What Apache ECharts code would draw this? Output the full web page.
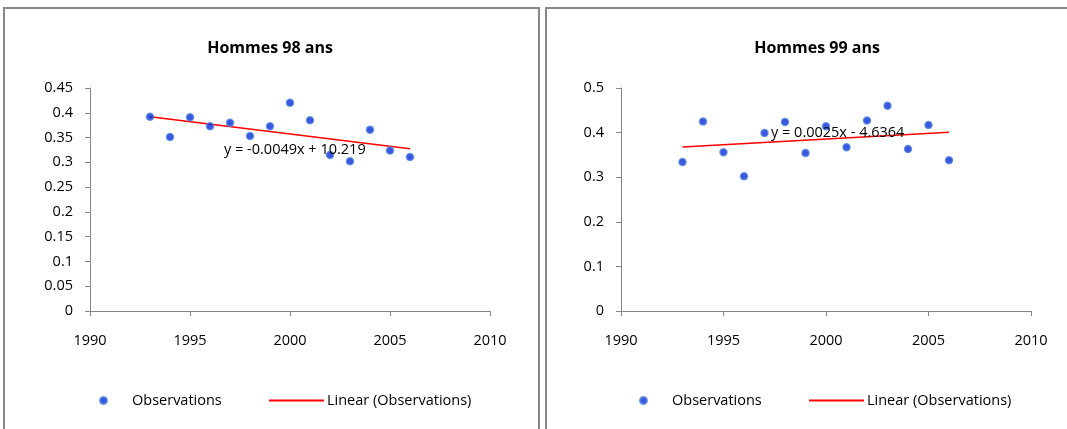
<!DOCTYPE html>
<html>
<head>
<meta charset="utf-8">
<script src="https://cdn.jsdelivr.net/npm/echarts@6/dist/echarts.min.js"></script>
<style>
html,body{margin:0;padding:0;background:#fff;}
#c{width:1067px;height:429px;}
</style>
</head>
<body>
<div id="c"></div>
<script>
// ---- data ----
const years = [1993,1994,1995,1996,1997,1998,1999,2000,2001,2002,2003,2004,2005,2006];
const hommes98 = [0.392,0.351,0.391,0.373,0.380,0.353,0.373,0.420,0.385,0.315,0.302,0.366,0.324,0.311];
const hommes99 = [0.334,0.425,0.356,0.302,0.399,0.424,0.354,0.414,0.367,0.427,0.460,0.363,0.417,0.338];
const titles = ['Hommes 98 ans','Hommes 99 ans'];
const equations = ['y = -0.0049x + 10.219','y = 0.0025x - 4.6364'];
const xTicks = {min:1990,max:2010,interval:5};
const yTicks98 = {min:0,max:0.45,interval:0.05};
const yTicks99 = {min:0,max:0.5,interval:0.1};

function fit(xs, ys){
  const n = xs.length;
  let sx=0,sy=0,sxx=0,sxy=0;
  for(let i=0;i<n;i++){sx+=xs[i];sy+=ys[i];sxx+=xs[i]*xs[i];sxy+=xs[i]*ys[i];}
  const b=(n*sxy-sx*sy)/(n*sxx-sx*sx);
  const a=(sy-b*sx)/n;
  const x0=xs[0], x1=xs[n-1];
  return [[x0,a+b*x0],[x1,a+b*x1]];
}

const FONT = "'Open Sans', sans-serif";
const FS = 14.5;
const chart = echarts.init(document.getElementById('c'), null, {renderer:'canvas'});
const axisCol = '#868686';
const txt = {color:'#000', fontFamily:FONT, fontSize:FS};

function xAxis(grid){
  return {type:'value', gridIndex:grid, min:xTicks.min, max:xTicks.max, interval:xTicks.interval,
    axisLine:{show:true,lineStyle:{color:axisCol,width:1}},
    axisTick:{show:true,length:5,lineStyle:{color:axisCol}},
    axisLabel:Object.assign({margin:22, formatter:(v)=>String(v)},txt),
    splitLine:{show:false}};
}
function yAxis(grid,t){
  return {type:'value', gridIndex:grid, min:t.min, max:t.max, interval:t.interval,
    axisLine:{show:true,lineStyle:{color:axisCol,width:1}},
    axisTick:{show:true,length:5,lineStyle:{color:axisCol}},
    axisLabel:Object.assign({margin:17, formatter:(v)=>String(+v.toFixed(2))},txt),
    splitLine:{show:false}};
}
const scatterStyle = {color:'#0a2ad8', borderColor:'#4d84de', borderWidth:1.5};
function scatter(grid, vals){
  return {name:'Observations', type:'scatter', xAxisIndex:grid, yAxisIndex:grid,
    symbol:'circle', symbolSize:7, itemStyle:scatterStyle,
    data:years.map((y,i)=>[y,vals[i]])};
}
function trend(grid, vals){
  return {name:'Linear (Observations)', type:'line', xAxisIndex:grid, yAxisIndex:grid,
    symbol:'none', showSymbol:false, lineStyle:{color:'#ff0000',width:1.6}, itemStyle:{color:'#ff0000'},
    data:fit(years, vals), z:1};
}
function legendObs(left){
  return {left:left, top:388, itemWidth:7, itemHeight:7, icon:'circle',
    data:['Observations'], textStyle:Object.assign({padding:[0,0,0,20]},txt), selectedMode:false};
}
function legendLin(left){
  return {left:left, top:388, itemWidth:55, itemHeight:2, icon:'rect',
    data:['Linear (Observations)'], textStyle:Object.assign({padding:[0,0,0,-2]},txt), selectedMode:false};
}

chart.setOption({
  animation:false,
  title:[
    {text:titles[0], left:265, top:35, textAlign:'center', textStyle:{fontFamily:FONT,fontSize:16,fontWeight:'bold',color:'#000'}},
    {text:titles[1], left:812, top:35, textAlign:'center', textStyle:{fontFamily:FONT,fontSize:16,fontWeight:'bold',color:'#000'}}
  ],
  grid:[
    {left:90, right:577, top:88, bottom:118},
    {left:621, right:36, top:88, bottom:118}
  ],
  xAxis:[xAxis(0), xAxis(1)],
  yAxis:[yAxis(0,yTicks98), yAxis(1,yTicks99)],
  legend:[legendObs(94), legendLin(264), legendObs(634), legendLin(804)],
  series:[trend(0,hommes98), scatter(0,hommes98), trend(1,hommes99), scatter(1,hommes99)],
  graphic:[
    {type:'rect', shape:{x:4,y:8,width:535,height:430}, style:{fill:'none',stroke:'#888',lineWidth:2}, silent:true},
    {type:'rect', shape:{x:546,y:8,width:530,height:430}, style:{fill:'none',stroke:'#888',lineWidth:2}, silent:true},
    {type:'text', x:224, y:150, style:{text:equations[0], fill:'#000', font:FS+"px "+FONT, textVerticalAlign:'middle'}, z:10},
    {type:'text', x:771, y:133, style:{text:equations[1], fill:'#000', font:FS+"px "+FONT, textVerticalAlign:'middle'}, z:10}
  ]
});
</script>
</body>
</html>
